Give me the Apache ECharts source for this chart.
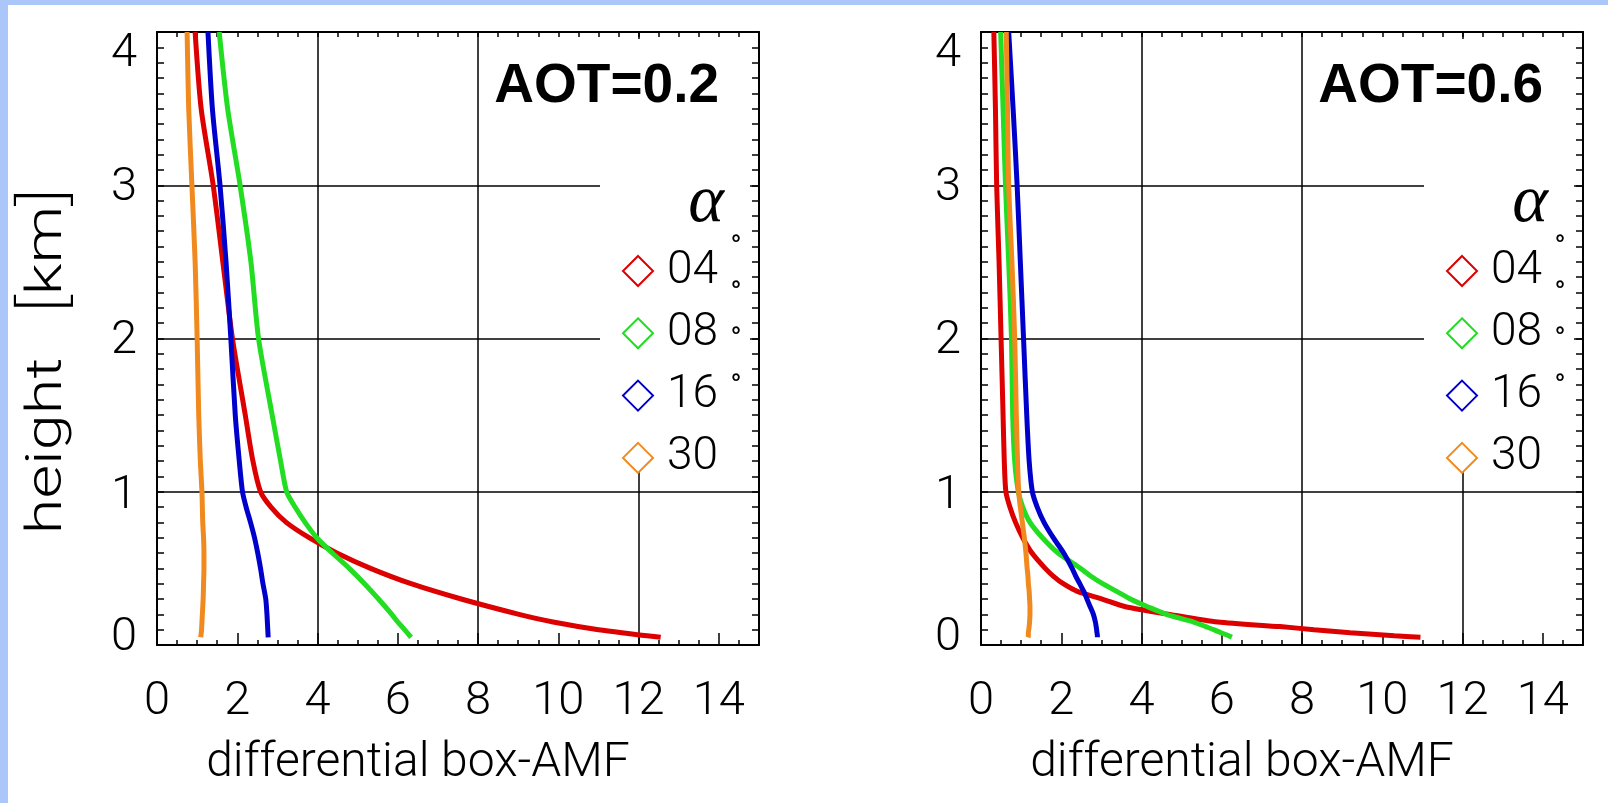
<!DOCTYPE html>
<html>
<head>
<meta charset="utf-8">
<script src="https://cdn.jsdelivr.net/npm/echarts@6/dist/echarts.min.js"></script>
<style>
html,body{margin:0;padding:0;background:#fff;}
#chart{width:1608px;height:803px;}
</style>
</head>
<body>
<div id="chart"></div>
<script>
// ---------- data ----------
const panelTitles = ['AOT=0.2', 'AOT=0.6'];
const seriesNames = ['04', '08', '16', '30'];
const seriesColors = ['#dd0000', '#22dd22', '#0000cc', '#f08a1e'];
const xTickLabels = ['0', '2', '4', '6', '8', '10', '12', '14'];
const yTickLabels = ['0', '1', '2', '3', '4'];
const xAxisName = 'differential box-AMF';
const yAxisNameMain = 'height';
const yAxisNameUnit = 'km';

// AOT = 0.2 panel
const heightsA = [4.0, 3.5, 3.0, 2.5, 2.0, 1.5, 1.2, 1.0, 0.9, 0.8, 0.7, 0.6, 0.5, 0.4, 0.3, 0.2, 0.15, 0.1, 0.05];
const amfA_04 = [0.95, 1.10, 1.40, 1.64, 1.88, 2.20, 2.39, 2.58, 2.84, 3.22, 3.79, 4.48, 5.32, 6.33, 7.58, 9.02, 9.87, 11.0, 12.55];
const amfA_08 = [1.55, 1.76, 2.07, 2.34, 2.53, 2.87, 3.08, 3.23, 3.44, 3.69, 3.98, 4.37, 4.79, 5.17, 5.52, 5.85, 6.00, 6.17, 6.33];
const amfA_16 = [1.27, 1.38, 1.57, 1.72, 1.84, 1.95, 2.05, 2.13, 2.22, 2.33, 2.43, 2.51, 2.58, 2.64, 2.71, 2.74, 2.75, 2.76, 2.77];
const amfA_30 = [0.75, 0.79, 0.87, 0.95, 1.00, 1.04, 1.08, 1.12, 1.13, 1.14, 1.16, 1.17, 1.17, 1.16, 1.15, 1.13, 1.12, 1.11, 1.09];

// AOT = 0.6 panel
const heightsB = [4.0, 3.5, 3.0, 2.5, 2.0, 1.5, 1.2, 1.0, 0.9, 0.8, 0.7, 0.6, 0.5, 0.45, 0.4, 0.35, 0.3, 0.25, 0.2, 0.15, 0.12, 0.1, 0.08, 0.06, 0.05];
const amfB_04 = [0.32, 0.36, 0.39, 0.45, 0.50, 0.55, 0.58, 0.62, 0.72, 0.86, 1.04, 1.27, 1.60, 1.80, 2.05, 2.40, 3.02, 3.60, 4.70, 5.90, 7.45, 8.30, 9.20, 10.30, 10.95];
const amfB_08 = [0.49, 0.55, 0.61, 0.69, 0.76, 0.79, 0.84, 0.93, 1.04, 1.22, 1.53, 1.92, 2.48, 2.73, 3.03, 3.38, 3.72, 4.15, 4.62, 5.30, 5.60, 5.80, 5.98, 6.17, 6.25];
const amfB_16 = [0.69, 0.80, 0.90, 0.98, 1.06, 1.14, 1.20, 1.28, 1.40, 1.57, 1.80, 2.06, 2.27, 2.36, 2.46, 2.56, 2.64, 2.72, 2.80, 2.85, 2.87, 2.88, 2.89, 2.90, 2.90];
const amfB_30 = [0.63, 0.66, 0.69, 0.77, 0.84, 0.88, 0.91, 0.94, 0.98, 1.03, 1.08, 1.12, 1.15, 1.17, 1.18, 1.20, 1.21, 1.22, 1.22, 1.21, 1.20, 1.19, 1.18, 1.18, 1.17];

const panels = [
  {heights: heightsA, amf: [amfA_04, amfA_08, amfA_16, amfA_30]},
  {heights: heightsB, amf: [amfB_04, amfB_08, amfB_16, amfB_30]}
];

// ---------- layout / style ----------
const FONT = 'Roboto';
const BLUE = '#abc7fa';
const gridPos = [
  {left: 157, top: 32, width: 602, height: 613},
  {left: 981, top: 32, width: 602, height: 613}
];
const black = {color: '#000', width: 2};
const thin = {color: '#000', width: 1.5};

const yLabelPad = {
  '0': [0, 0, 14, 0], '1': [8, 0, 0, 0], '2': [6, 0, 0, 0], '3': [6, 0, 0, 0], '4': [44, 0, 0, 0]
};
const yRich = {};
yTickLabels.forEach(function (t) {
  yRich['t' + t] = {fontSize: 47, fontFamily: FONT, fontWeight: 300, color: '#000', padding: yLabelPad[t]};
});

const grid = [], xAxis = [], yAxis = [], series = [], legend = [], graphic = [];

graphic.push({type: 'rect', shape: {x: 0, y: 0, width: 1608, height: 5}, style: {fill: BLUE}, z: 20});
graphic.push({type: 'rect', shape: {x: 0, y: 0, width: 8, height: 803}, style: {fill: BLUE}, z: 20});

// y axis title (left panel only)
graphic.push({
  type: 'text', x: 48, y: 361, rotation: Math.PI / 2, scaleX: 1.3, z: 10,
  style: {
    text: '{a|' + yAxisNameMain + '}{c|[}{a|' + yAxisNameUnit + '}{b|]}',
    align: 'center', verticalAlign: 'middle', fill: '#000',
    rich: {
      a: {fontSize: 50, fontFamily: FONT, fontWeight: 300, fill: '#000', color: '#000'},
      b: {fontSize: 62, fontFamily: FONT, fontWeight: 200, fill: '#000', color: '#000'},
      c: {fontSize: 62, fontFamily: FONT, fontWeight: 200, fill: '#000', color: '#000', padding: [0, 0, 0, 34]}
    }
  }
});

panels.forEach(function (p, g) {
  const gp = gridPos[g];
  grid.push({left: gp.left, top: gp.top, width: gp.width, height: gp.height, show: false});
  const xi = xAxis.length;
  // bottom axis with labels and 0.5 ticks
  xAxis.push({
    gridIndex: g, type: 'value', min: 0, max: 15, interval: 0.5, position: 'bottom',
    axisLine: {show: true, onZero: false, lineStyle: black},
    axisTick: {show: true, inside: true, length: 5, lineStyle: thin},
    axisLabel: {
      show: true, margin: 34, showMaxLabel: false, showMinLabel: true,
      formatter: function (v) { const s = String(v); return xTickLabels.indexOf(s) >= 0 ? s : ''; },
      fontSize: 47, fontFamily: FONT, fontWeight: 300, color: '#000'
    },
    splitLine: {show: false},
    name: xAxisName, nameLocation: 'middle', nameGap: 95,
    nameTextStyle: {fontSize: 48, fontFamily: FONT, fontWeight: 300, color: '#000', padding: [0, 80, 0, 0]}
  });
  // bottom longer ticks every 2
  xAxis.push({
    gridIndex: g, type: 'value', min: 0, max: 15, interval: 2, position: 'bottom',
    axisLine: {show: false, onZero: false},
    axisTick: {show: true, inside: true, length: 12, lineStyle: thin},
    axisLabel: {show: false}, splitLine: {show: false}
  });
  // top axis
  xAxis.push({
    gridIndex: g, type: 'value', min: 0, max: 15, interval: 0.5, position: 'top',
    axisLine: {show: true, onZero: false, lineStyle: black},
    axisTick: {show: true, inside: true, length: 5, lineStyle: thin},
    axisLabel: {show: false}, splitLine: {show: false}
  });
  // vertical grid lines every 4
  xAxis.push({
    gridIndex: g, type: 'value', min: 0, max: 15, interval: 4, position: 'top',
    axisLine: {show: false, onZero: false}, axisTick: {show: false}, axisLabel: {show: false},
    splitLine: {show: true, lineStyle: thin}
  });
  const yi = yAxis.length;
  yAxis.push({
    gridIndex: g, type: 'value', min: 0, max: 4, interval: 1, position: 'left',
    axisLine: {show: true, onZero: false, lineStyle: black},
    axisTick: {show: true, inside: true, length: 7, lineStyle: thin},
    minorTick: {show: true, splitNumber: 10, length: 7, lineStyle: thin},
    splitLine: {show: true, lineStyle: thin},
    axisLabel: {
      show: true, margin: 20,
      formatter: function (v) { const s = String(v); return '{t' + s + '|' + s + '}'; },
      rich: yRich
    }
  });
  yAxis.push({
    gridIndex: g, type: 'value', min: 0, max: 4, interval: 1, position: 'right',
    axisLine: {show: true, onZero: false, lineStyle: black},
    axisTick: {show: true, inside: true, length: 7, lineStyle: thin},
    minorTick: {show: true, splitNumber: 10, length: 7, lineStyle: thin},
    splitLine: {show: false}, axisLabel: {show: false}
  });

  seriesNames.forEach(function (name, k) {
    series.push({
      type: 'line', name: name, xAxisIndex: xi, yAxisIndex: yi,
      data: p.heights.map(function (h, i) { return [p.amf[k][i], h]; }),
      showSymbol: false, symbol: 'none', smooth: 0.25,
      lineStyle: {color: seriesColors[k], width: 5},
      itemStyle: {color: seriesColors[k]},
      z: 3 + k, animation: false
    });
  });

  const dx = gp.left - 157;
  // white box behind legend
  graphic.push({type: 'rect', shape: {x: 600 + dx, y: 39, width: 150, height: 406}, style: {fill: '#fff'}, z: 1});
  // panel title
  graphic.push({type: 'text', x: 719 + dx, y: 87, z: 10,
    style: {text: panelTitles[g], align: 'right', verticalAlign: 'middle', fill: '#000',
      font: 'bold 55px "Liberation Sans", Arial, sans-serif'}});
  // alpha
  graphic.push({type: 'text', x: 706 + dx, y: 203, z: 10,
    style: {text: 'α', align: 'center', verticalAlign: 'middle', fill: '#000',
      font: 'italic 68px "Liberation Serif", serif'}});
  // degree marks
  graphic.push({type: 'text', x: 736 + dx, y: 221, z: 10,
    style: {text: '°\n°\n°\n°', align: 'center', verticalAlign: 'top', fill: '#000', lineHeight: 46.3,
      font: 'bold 24px "Liberation Sans", sans-serif'}});

  legend.push({
    show: true, orient: 'vertical', left: 622 + dx, top: 248, padding: 0,
    itemWidth: 30, itemHeight: 30, itemGap: 16.3, icon: 'emptyDiamond',
    data: seriesNames.slice(),
    textStyle: {fontSize: 46, fontFamily: FONT, fontWeight: 300, color: '#000', lineHeight: 30, padding: [0, 0, 0, 9]},
    selectedMode: false
  });
});

const chart = echarts.init(document.getElementById('chart'), null, {renderer: 'canvas'});
chart.setOption({
  backgroundColor: '#fff',
  animation: false,
  grid: grid, xAxis: xAxis, yAxis: yAxis, series: series, legend: legend, graphic: graphic
});
</script>
</body>
</html>
